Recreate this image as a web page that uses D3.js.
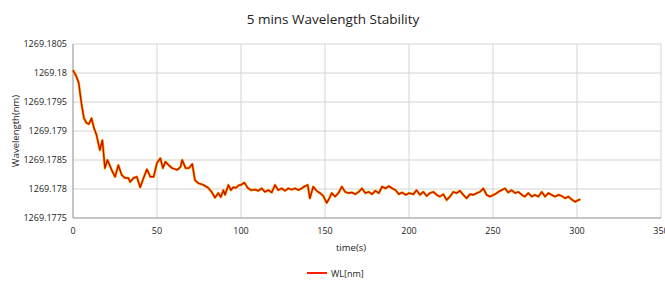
<!DOCTYPE html>
<html>
<head>
<meta charset="utf-8">
<script src="https://cdn.jsdelivr.net/npm/d3@7"></script>
<style>
  body { margin: 0; background: #fff; }
  text { font-family: "Open Sans", "Liberation Sans", sans-serif; fill: #222; }
</style>
</head>
<body>
<svg id="chart" width="665" height="285"></svg>
<script>
// time in seconds
let time = [0,2,3.4,5,6.5,8,9.5,11,12.5,14,16,17.5,19,20.5,23,25,27,29,31,33,34,36,38,40,42,44,46,48,
  50,52,53.5,55,57,59,62,64,65,67,69,71,72.6,74.6,77.6,80.5,82.5,84.5,86.5,88,89.5,90.5,92.5,94,95.4,97,99,
  100,102,104,106,108.3,110.3,112.3,114.3,116.3,118.3,120.2,122.2,124.2,126.2,128.2,130.2,132.2,134.2,136.1,138.1,139.7,141,143,145,147,149,
  151,152.6,154,156,158,160,162,164,166,168,170,172,174,176,178,180,182,184,186,188,190,192,194,196,198,200,
  202.6,204.5,206.5,208.5,210.5,212.5,214.5,216.5,218.4,220.4,222.4,224.4,226.4,228.4,230.3,232.3,234.3,236.3,238.3,240.3,242.2,244.2,246.2,248.2,
  251.2,253.2,255.1,257.1,259.1,261.1,263.1,265.1,267.1,269,271,273,275,277,279,281,283,284.9,286.9,288.9,290.9,292.9,294.8,296.8,298.8,300.8,302]
// wavelength in nm
let wl = [1269.18005,1269.17994,1269.17983,1269.17948,1269.17922,1269.17914,1269.17912,1269.17922,1269.17905,1269.17893,1269.17867,1269.17884,1269.17836,1269.1785,1269.17833,1269.17821,1269.17841,1269.17824,1269.17819,1269.17819,1269.17812,1269.17819,1269.17821,1269.17803,1269.17819,1269.17834,1269.17821,1269.17821,
  1269.17845,1269.17853,1269.17836,1269.17847,1269.17841,1269.17836,1269.17833,1269.17838,1269.1785,1269.17836,1269.17836,1269.17843,1269.17815,1269.1781,1269.17807,1269.17802,1269.17795,1269.17785,1269.17793,1269.17786,1269.17798,1269.1779,1269.17807,1269.17798,1269.17803,1269.17802,1269.17807,
  1269.17807,1269.17811,1269.17802,1269.17798,1269.17799,1269.17797,1269.17801,1269.17795,1269.17798,1269.17794,1269.17807,1269.17798,1269.17801,1269.17797,1269.17801,1269.17799,1269.17801,1269.17798,1269.17801,1269.17805,1269.17807,1269.17784,1269.17804,1269.17797,1269.17793,1269.17788,
  1269.17776,1269.17784,1269.17793,1269.17787,1269.17793,1269.17804,1269.17795,1269.17793,1269.17794,1269.17791,1269.17795,1269.17801,1269.17793,1269.17795,1269.17791,1269.17797,1269.17793,1269.17804,1269.17801,1269.17805,1269.17801,1269.17798,1269.17791,1269.17794,1269.1779,1269.17793,
  1269.17791,1269.17798,1269.1779,1269.17795,1269.17788,1269.17793,1269.17795,1269.1779,1269.17787,1269.17791,1269.17781,1269.17787,1269.17795,1269.17793,1269.17797,1269.1779,1269.17784,1269.17791,1269.1779,1269.17793,1269.17795,1269.17801,1269.1779,1269.17787,
  1269.17791,1269.17795,1269.17798,1269.17801,1269.17794,1269.17798,1269.17793,1269.17795,1269.1779,1269.17787,1269.17793,1269.17787,1269.1779,1269.17787,1269.17795,1269.17787,1269.17793,1269.1779,1269.17787,1269.1779,1269.17788,1269.17784,1269.17787,1269.17782,1269.17778,1269.17781,1269.17782]
let xTicks = [0,50,100,150,200,250,300,350]
let yTicks = [1269.1775,1269.178,1269.1785,1269.179,1269.1795,1269.18,1269.1805]

let svg = d3.select("#chart")
let plotLeft = 73, plotRight = 661, plotTop = 44, plotBottom = 218

let x = d3.scaleLinear().domain([0,350]).range([plotLeft,plotRight])
let y = d3.scaleLinear().domain([1269.1775,1269.1805]).range([plotBottom,plotTop])

svg.append("text")
  .attr("x",333).attr("y",24)
  .attr("text-anchor","middle")
  .style("font-size","13.5px")
  .text("5 mins Wavelength Stability")

// gridlines
svg.selectAll(".hgrid").data(yTicks.slice(1)).enter().append("line")
  .attr("x1",plotLeft).attr("x2",plotRight)
  .attr("y1",d=>y(d)).attr("y2",d=>y(d))
  .attr("stroke","#d4d4d4").attr("stroke-width",1)
svg.selectAll(".vgrid").data(xTicks.slice(1)).enter().append("line")
  .attr("x1",d=>x(d)).attr("x2",d=>x(d))
  .attr("y1",plotTop).attr("y2",plotBottom)
  .attr("stroke","#d4d4d4").attr("stroke-width",1)

// axes lines
svg.append("line").attr("x1",plotLeft).attr("x2",plotLeft).attr("y1",plotTop).attr("y2",plotBottom).attr("stroke","#8c8c8c")
svg.append("line").attr("x1",plotLeft).attr("x2",plotRight).attr("y1",plotBottom).attr("y2",plotBottom).attr("stroke","#8c8c8c")

svg.selectAll(".ylab").data(yTicks).enter().append("text")
  .attr("x",plotLeft-6).attr("y",d=>y(d)+3)
  .attr("text-anchor","end")
  .style("font-size","9px")
  .text(d=>d3.format(".4~f")(d))

svg.selectAll(".xlab").data(xTicks).enter().append("text")
  .attr("x",d=>x(d)).attr("y",plotBottom+16)
  .attr("text-anchor","middle")
  .style("font-size","9px")
  .text(d=>d)

svg.append("text")
  .attr("transform","translate(19,"+((plotTop+plotBottom)/2)+") rotate(-90)")
  .attr("text-anchor","middle")
  .style("font-size","9.5px")
  .text("Wavelength(nm)")

svg.append("text")
  .attr("x",351).attr("y",251)
  .attr("text-anchor","middle")
  .style("font-size","9.5px")
  .text("time(s)")

let line = d3.line().x((d,i)=>x(time[i])).y(d=>y(d))
svg.append("path").datum(wl)
  .attr("d",line).attr("fill","none")
  .attr("stroke","#ffb000").attr("stroke-width",2.6).attr("stroke-linejoin","round")
svg.append("path").datum(wl)
  .attr("d",line).attr("fill","none")
  .attr("stroke","#cc1000").attr("stroke-width",1.4).attr("stroke-linejoin","round")

// legend
svg.append("line").attr("x1",307).attr("x2",327).attr("y1",273).attr("y2",273)
  .attr("stroke","#ff2000").attr("stroke-width",2)
svg.append("text").attr("x",331).attr("y",276.5)
  .style("font-size","9px")
  .text("WL[nm]")
</script>
</body>
</html>
